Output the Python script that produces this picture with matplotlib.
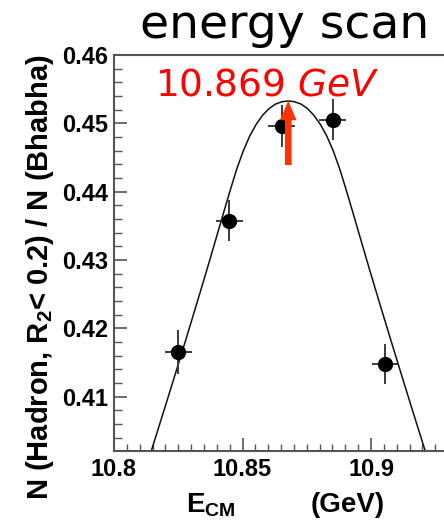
import matplotlib
matplotlib.use('Agg')
import matplotlib.pyplot as plt
from matplotlib.ticker import FixedLocator, MultipleLocator

# ---- data ----
e_cm = [10.8250, 10.8449, 10.8652, 10.8851, 10.9054]
ratio = [0.41658, 0.43571, 0.44965, 0.45049, 0.41474]
e_err = [0.0052, 0.0052, 0.0052, 0.0052, 0.0052]
r_err = [0.0032, 0.0030, 0.0031, 0.0030, 0.0029]

# fit curve
curve_x = [10.8128, 10.8153, 10.8178, 10.8203, 10.8228, 10.8253, 10.8278, 10.8303,
           10.8328, 10.8353, 10.8378, 10.8403, 10.8428, 10.8453, 10.8478, 10.8503,
           10.8528, 10.8553, 10.8578, 10.8603, 10.8628, 10.8653, 10.8678, 10.8703,
           10.8728, 10.8753, 10.8778, 10.8803, 10.8828, 10.8853, 10.8878, 10.8903,
           10.8928, 10.8953, 10.8978, 10.9003, 10.9028, 10.9053, 10.9078, 10.9103,
           10.9128, 10.9153, 10.9178, 10.9203, 10.9228]
curve_y = [0.40002, 0.40301, 0.40601, 0.40902, 0.41205, 0.41510, 0.41817, 0.42126,
           0.42437, 0.42751, 0.43069, 0.43391, 0.43714, 0.44031, 0.44335, 0.44597,
           0.44814, 0.44984, 0.45117, 0.45215, 0.45281, 0.45316, 0.45327, 0.45316,
           0.45281, 0.45215, 0.45117, 0.44984, 0.44814, 0.44597, 0.44335, 0.44031,
           0.43714, 0.43391, 0.43069, 0.42751, 0.42437, 0.42126, 0.41817, 0.41510,
           0.41205, 0.40902, 0.40601, 0.40301, 0.40002]

peak_energy = 10.8678
peak_label = '10.869'
arrow_tail_y = 0.4439
arrow_tip_y = 0.4533

xticks = [10.8, 10.85, 10.9]
xtick_labels = ['10.8', '10.85', '10.9']
yticks = [0.41, 0.42, 0.43, 0.44, 0.45, 0.46]
ytick_labels = ['0.41', '0.42', '0.43', '0.44', '0.45', '0.46']

# ---- style ----
plt.rcParams['font.family'] = ['Liberation Sans', 'DejaVu Sans']
plt.rcParams['font.weight'] = 'bold'
plt.rcParams['mathtext.fontset'] = 'custom'
plt.rcParams['mathtext.bf'] = 'Liberation Sans:bold'
plt.rcParams['mathtext.rm'] = 'Liberation Sans'
plt.rcParams['mathtext.it'] = 'DejaVu Sans:italic:weight=normal'

W, H = 444, 524
fig = plt.figure(figsize=(W / 100, H / 100), dpi=100)
ax = fig.add_axes([114 / W, 1 - 451 / H, 1 - 114 / W, (451 - 55) / H])

ax.plot(curve_x, curve_y, color='#111111', lw=1.1, zorder=2)
ax.errorbar(e_cm, ratio, xerr=e_err, yerr=r_err, fmt='o', color='black', ms=10,
            ecolor='#3a3a3a', elinewidth=1.4, capsize=0, zorder=3)

ax.annotate('', xy=(peak_energy, arrow_tip_y), xytext=(peak_energy, arrow_tail_y),
            arrowprops=dict(facecolor='#ff3300', edgecolor='none', width=4.8,
                            headwidth=12, headlength=14, shrink=0), zorder=4)

ax.set_xlim(10.8, 10.9284)
ax.set_ylim(0.40205, 0.46)
ax.xaxis.set_major_locator(FixedLocator(xticks))
ax.set_xticklabels(xtick_labels)
ax.yaxis.set_major_locator(FixedLocator(yticks))
ax.set_yticklabels(ytick_labels)
ax.xaxis.set_minor_locator(MultipleLocator(0.005))
ax.yaxis.set_minor_locator(MultipleLocator(0.002))

ax.spines['right'].set_visible(False)
for s in ['left', 'bottom', 'top']:
    ax.spines[s].set_color('#555555')
    ax.spines[s].set_linewidth(1.5)

ax.tick_params(which='both', direction='in', top=False, right=False,
               color='#555555', labelcolor='black')
ax.tick_params(which='major', length=9.5, width=1.2, labelsize=17)
ax.tick_params(axis='y', which='minor', length=5.5, width=1.0)
ax.tick_params(axis='x', which='minor', length=5.0, width=1.0)
ax.tick_params(axis='y', which='major', pad=4)
ax.tick_params(axis='x', which='major', pad=5)

fig.text(140 / W, 1 - 38 / H, 'energy scan', fontsize=34, family='DejaVu Sans',
         weight='normal', ha='left', va='baseline', color='black')
fig.text(155 / W, 1 - 95 / H, peak_label + ' $\\mathit{GeV}$', fontsize=27,
         family='DejaVu Sans', weight='normal', ha='left', va='baseline', color='red')

fig.text(40 / W, 1 - 277 / H, 'N (Hadron, R$_\\mathbf{2}$< 0.2) / N (Bhabha)',
         rotation=90, ha='center', va='center', fontsize=21, weight='bold')
fig.text(211 / W, 1 - 512 / H, 'E$_\\mathbf{CM}$', ha='center', va='baseline',
         fontsize=20, weight='bold')
fig.text(348 / W, 1 - 512 / H, '(GeV)', ha='center', va='baseline',
         fontsize=20, weight='bold')

fig.savefig('out.png', dpi=100)
